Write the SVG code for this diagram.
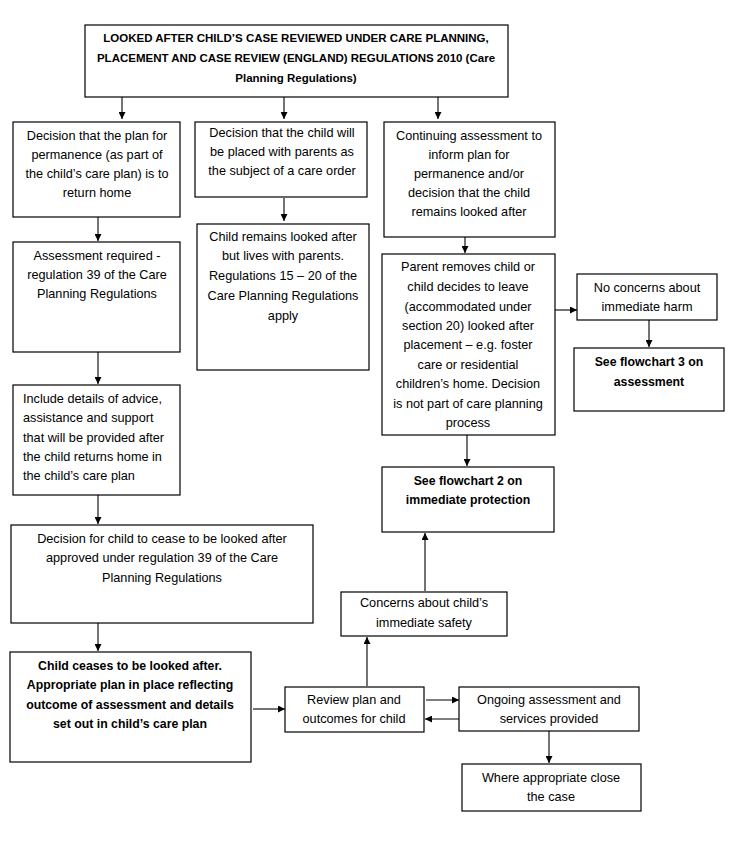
<svg xmlns="http://www.w3.org/2000/svg" width="736" height="855" viewBox="0 0 736 855">
<defs>
<style>
rect{fill:#fff;stroke:#000;stroke-width:1.2}
text{font-family:"Liberation Sans",Arial,sans-serif;font-size:12.7px;fill:#000;text-anchor:middle}
.b{font-weight:bold;font-size:12.3px}
.t{font-weight:bold;font-size:11.5px}
.l{text-anchor:start}
.c line,.c path{stroke:#000;stroke-width:1.1;fill:none;marker-end:url(#ah)}
</style>
<marker id="ah" viewBox="0 0 10 10" refX="10" refY="5" markerWidth="7" markerHeight="7" markerUnits="userSpaceOnUse" orient="auto">
<path d="M0,0 L10,5 L0,10 Z" fill="#000"/>
</marker>
</defs>
<rect x="0" y="0" width="736" height="855" style="stroke:none"/>
<g class="c" id="connectors">
<line x1="122" y1="97" x2="122" y2="119"/>
<line x1="284" y1="97" x2="284" y2="119"/>
<line x1="438" y1="97" x2="438" y2="119"/>
<line x1="98" y1="217" x2="98" y2="241"/>
<line x1="284" y1="198" x2="284" y2="221"/>
<line x1="465" y1="237" x2="465" y2="253"/>
<line x1="555" y1="310" x2="577" y2="310"/>
<line x1="649" y1="320" x2="649" y2="347"/>
<line x1="467" y1="435" x2="467" y2="466"/>
<line x1="425" y1="591" x2="425" y2="533"/>
<line x1="367" y1="686" x2="367" y2="637"/>
<line x1="98" y1="352" x2="98" y2="384"/>
<line x1="98" y1="495" x2="98" y2="524"/>
<line x1="98" y1="623" x2="98" y2="651"/>
<line x1="253" y1="709" x2="285" y2="709"/>
<line x1="426" y1="700" x2="459" y2="700"/>
<line x1="459" y1="719" x2="425" y2="719"/>
<line x1="549" y1="731" x2="549" y2="763"/>
</g>
<g id="top">
<rect x="85" y="25" width="423" height="72"/>
<text class="t" x="296" y="42">LOOKED AFTER CHILD’S CASE REVIEWED UNDER CARE PLANNING,</text>
<text class="t" x="296" y="62">PLACEMENT AND CASE REVIEW (ENGLAND) REGULATIONS 2010 (Care</text>
<text class="t" x="296" y="82">Planning Regulations)</text>
</g>
<g id="a1">
<rect x="13" y="122" width="167" height="95"/>
<text x="97" y="140">Decision that the plan for</text>
<text x="97" y="159">permanence (as part of</text>
<text x="97" y="178">the child’s care plan) is to</text>
<text x="97" y="197">return home</text>
</g>
<g id="a2">
<rect x="13" y="242" width="167" height="110"/>
<text x="97" y="260">Assessment required -</text>
<text x="97" y="279">regulation 39 of the Care</text>
<text x="97" y="298">Planning Regulations</text>
</g>
<g id="a3">
<rect x="13" y="385" width="167" height="110"/>
<text class="l" x="23" y="403">Include details of advice,</text>
<text class="l" x="23" y="422">assistance and support</text>
<text class="l" x="23" y="442">that will be provided after</text>
<text class="l" x="23" y="461">the child returns home in</text>
<text class="l" x="23" y="480">the child’s care plan</text>
</g>
<g id="a4">
<rect x="11" y="525" width="302" height="98"/>
<text x="162" y="543">Decision for child to cease to be looked after</text>
<text x="162" y="562">approved under regulation 39 of the Care</text>
<text x="162" y="582">Planning Regulations</text>
</g>
<g id="a5">
<rect x="10" y="652" width="241" height="110"/>
<text class="b" x="130" y="670">Child ceases to be looked after.</text>
<text class="b" x="130" y="689">Appropriate plan in place reflecting</text>
<text class="b" x="130" y="709">outcome of assessment and details</text>
<text class="b" x="130" y="728">set out in child’s care plan</text>
</g>
<g id="b1">
<rect x="195" y="122" width="172" height="75"/>
<text x="282" y="137">Decision that the child will</text>
<text x="282" y="156">be placed with parents as</text>
<text x="282" y="175">the subject of a care order</text>
</g>
<g id="b2">
<rect x="197" y="224" width="172" height="146"/>
<text x="283" y="241">Child remains looked after</text>
<text x="283" y="260">but lives with parents.</text>
<text x="283" y="280">Regulations 15 – 20 of the</text>
<text x="283" y="300">Care Planning Regulations</text>
<text x="283" y="320">apply</text>
</g>
<g id="c1">
<rect x="384" y="122" width="171" height="115"/>
<text x="469" y="140">Continuing assessment to</text>
<text x="469" y="159">inform plan for</text>
<text x="469" y="178">permanence and/or</text>
<text x="469" y="197">decision that the child</text>
<text x="469" y="216">remains looked after</text>
</g>
<g id="c2">
<rect x="382" y="254" width="173" height="181"/>
<text x="468" y="271">Parent removes child or</text>
<text x="468" y="291">child decides to leave</text>
<text x="468" y="311">(accommodated under</text>
<text x="468" y="330">section 20) looked after</text>
<text x="468" y="349">placement – e.g. foster</text>
<text x="468" y="369">care or residential</text>
<text x="468" y="388">children’s home. Decision</text>
<text x="468" y="408">is not part of care planning</text>
<text x="468" y="427">process</text>
</g>
<g id="d1">
<rect x="577" y="274" width="140" height="46"/>
<text x="647" y="292">No concerns about</text>
<text x="647" y="311">immediate harm</text>
</g>
<g id="d2">
<rect x="574" y="348" width="150" height="63"/>
<text class="b" x="649" y="366">See flowchart 3 on</text>
<text class="b" x="649" y="386">assessment</text>
</g>
<g id="e">
<rect x="382" y="467" width="172" height="65"/>
<text class="b" x="468" y="485">See flowchart 2 on</text>
<text class="b" x="468" y="504">immediate protection</text>
</g>
<g id="f">
<rect x="341" y="592" width="166" height="44"/>
<text x="424" y="607">Concerns about child’s</text>
<text x="424" y="627">immediate safety</text>
</g>
<g id="review">
<rect x="285" y="687" width="139" height="45"/>
<text x="354" y="704">Review plan and</text>
<text x="354" y="723">outcomes for child</text>
</g>
<g id="ongoing">
<rect x="459" y="687" width="180" height="44"/>
<text x="549" y="704">Ongoing assessment and</text>
<text x="549" y="723">services provided</text>
</g>
<g id="close">
<rect x="462" y="764" width="179" height="47"/>
<text x="551" y="782">Where appropriate close</text>
<text x="551" y="801">the case</text>
</g>
</svg>
